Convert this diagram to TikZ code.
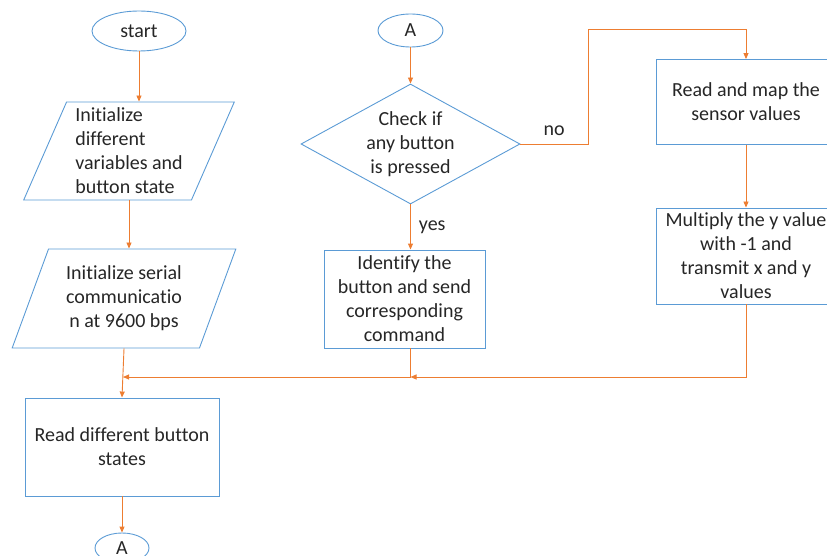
\documentclass[tikz,border=0pt]{standalone}
\usepackage{fontspec}
\setmainfont[Ligatures=NoCommon]{Carlito}
\usetikzlibrary{shapes.geometric,arrows.meta}

\definecolor{boxblue}{RGB}{91,155,213}
\definecolor{lineorange}{RGB}{237,125,49}
\definecolor{textgray}{RGB}{38,38,38}

\tikzset{
  base/.style={draw=boxblue, line width=0.9pt, inner sep=0pt, align=center},
  terminal/.style={base, ellipse},
  io/.style={base, trapezium, trapezium left angle=66.8, trapezium right angle=113.2, trapezium stretches=true},
  process/.style={base, rectangle},
  decision/.style={base, diamond, aspect=1.83},
  flow/.style={draw=lineorange, line width=0.9pt, -{Triangle[length=6pt,width=5pt]}},
  answer/.style={inner sep=0pt}
}

\begin{document}
\begin{tikzpicture}[x=1pt, y=-1pt, font=\fontsize{20}{24}\selectfont, text=textgray]
  \useasboundingbox (0,0) rectangle (827,556);

  % Left column
  \node[terminal, minimum width=94pt, minimum height=40pt] (start) at (139,31) {start};
  \node[io, minimum width=211pt, minimum height=98pt, align=left] (init1) at (129,151) {Initialize\\different\\variables and\\button state};
  \node[io, minimum width=224pt, minimum height=99pt] (init2) at (124,298.5) {Initialize serial\\communicatio\\n at 9600 bps};
  \node[process, minimum width=194pt, minimum height=98pt] (readbtn) at (122,447) {Read different button\\states};
  \node[terminal, minimum width=54pt, minimum height=30pt] (goA) at (122,548) {A};

  % Middle column
  \node[terminal, minimum width=65pt, minimum height=33pt] (fromA) at (410.5,30.5) {A};
  \node[decision, minimum width=219pt, minimum height=120pt] (check) at (410.5,144) {Check if\\any button\\is pressed};
  \node[process, minimum width=161pt, minimum height=98pt] (identify) at (404.5,299) {Identify the\\button and send\\corresponding\\command};

  % Right column
  \node[process, minimum width=180pt, minimum height=85pt] (sensor) at (746,102) {Read and map the\\sensor values};
  \node[process, minimum width=180pt, minimum height=96pt] (multiply) at (746,256) {Multiply the y value\\with -1 and\\transmit x and y\\values};

  \coordinate (noturn) at (588,29);
  \coordinate (mergeleft) at (123,377);
  \coordinate (mergeright) at (410.5,377);

  \draw[flow] (start) -- (start |- init1.north);
  \draw[flow] (init1.south) -- (init1.south |- init2.north);
  \draw[flow] (init2.south) -- (readbtn.north);
  \draw[flow] (readbtn) -- (goA);

  \draw[flow] (fromA) -- (check);
  \draw[flow] (check) -- node[answer, right, xshift=8pt] {yes} (check.south |- identify.north);
  \draw[flow] (check.east) -- node[answer, above, yshift=8pt] {no} (check.east -| noturn) -- (noturn) -| (sensor.north);
  \draw[flow] (sensor) -- (multiply);

  % Back to the reading loop
  \draw[flow] (multiply.south) |- (mergeright);
  \draw[flow] (check.south |- identify.south) |- (mergeleft);
\end{tikzpicture}
\end{document}
